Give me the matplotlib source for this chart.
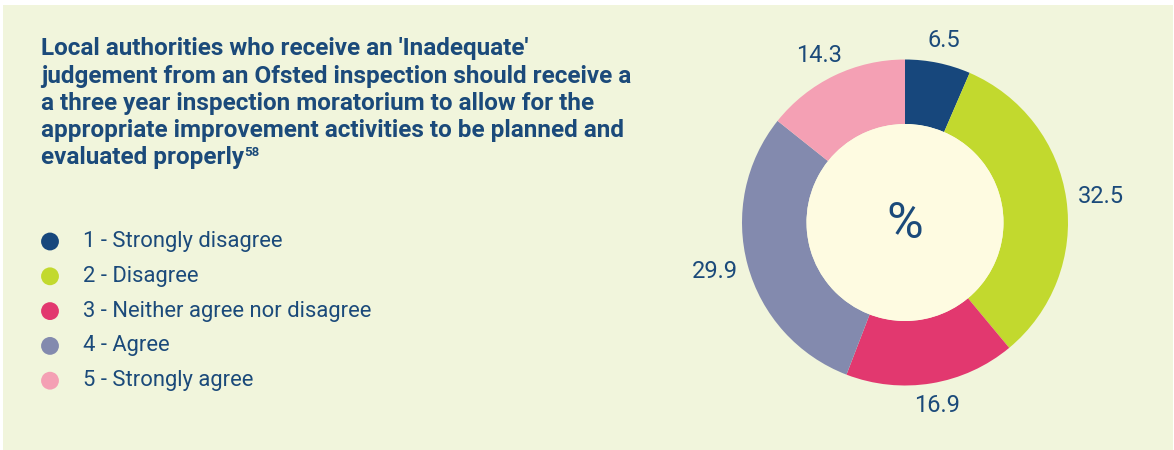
import numpy as np
import matplotlib.pyplot as plt
from matplotlib.patches import Rectangle, Circle

plt.rcParams['font.family'] = ['Roboto', 'DejaVu Sans']

categories = ['1 - Strongly disagree', '2 - Disagree', '3 - Neither agree nor disagree',
              '4 - Agree', '5 - Strongly agree']
values = [6.5, 32.5, 16.9, 29.9, 14.3]
colors = ['#17477c', '#c2d92e', '#e2386f', '#838aae', '#f4a0b4']
title_lines = ["Local authorities who receive an 'Inadequate'",
               "judgement from an Ofsted inspection should receive a",
               "a three year inspection moratorium to allow for the",
               "appropriate improvement activities to be planned and",
               "evaluated properly"]
footnote = '58'

ink = '#1b4a7a'
W, H = 1174, 450
fig = plt.figure(figsize=(W / 100, H / 100), dpi=100, facecolor='white')

# full-figure axes in pixel units for the panel, title and legend
bg = fig.add_axes([0, 0, 1, 1])
bg.set_xlim(0, W)
bg.set_ylim(H, 0)
bg.axis('off')
bg.add_patch(Rectangle((3, 5), W - 4, H - 5, facecolor='#f1f5dc', edgecolor='none'))

y = 49
for line in title_lines:
    t = bg.text(41, y, line, fontsize=17.5, fontweight='bold', color=ink, va='center', ha='left')
    y += 27.2
bg.annotate(footnote, xy=(1, 1), xycoords=t, xytext=(0.5, 0), textcoords='offset points',
            fontsize=9.5, fontweight='bold', color=ink, va='top', ha='left')

for i, (cat, c) in enumerate(zip(categories, colors)):
    ly = 241.5 + i * 34.8
    bg.scatter([50], [ly], s=165, color=c, edgecolor='none')
    bg.text(83, ly, cat, fontsize=15.8, color=ink, va='center', ha='left')

# donut: centre at (905, 222.5) px, outer radius 163 px
R = 163
L = 1.4
side = R * 2 * L
ax = fig.add_axes([(905 - side / 2) / W, (H - 222.5 - side / 2) / H, side / W, side / H])
wedges, _ = ax.pie(values, colors=colors, startangle=90, counterclock=False, radius=1,
                   wedgeprops=dict(width=1 - 98.5 / R, edgecolor='none'))
ax.add_patch(Circle((0, 0), 98.5 / R, facecolor='#fefbe1', edgecolor='none'))
ax.set_xlim(-L, L)
ax.set_ylim(-L, L)
ax.set_aspect('equal')
ax.axis('off')
ax.text(0, -0.01, '%', fontsize=36, color=ink, ha='center', va='center')

# value labels sit just outside the ring, pushed out by half their own box
labels = []
for w, v in zip(wedges, values):
    labels.append(ax.text(0, 0, f'{v:.1f}', fontsize=17, color=ink, ha='center', va='center'))
fig.canvas.draw()
renderer = fig.canvas.get_renderer()
for w, lab in zip(wedges, labels):
    ang = np.deg2rad((w.theta1 + w.theta2) / 2)
    bb = lab.get_window_extent(renderer)
    hw, hh = bb.width / 2 / R, bb.height / 2 / R
    r = 1.07
    lab.set_position((r * np.cos(ang) + hw * np.cos(ang), r * np.sin(ang) + hh * np.sin(ang)))

fig.savefig('out.png', dpi=100, facecolor=fig.get_facecolor())
